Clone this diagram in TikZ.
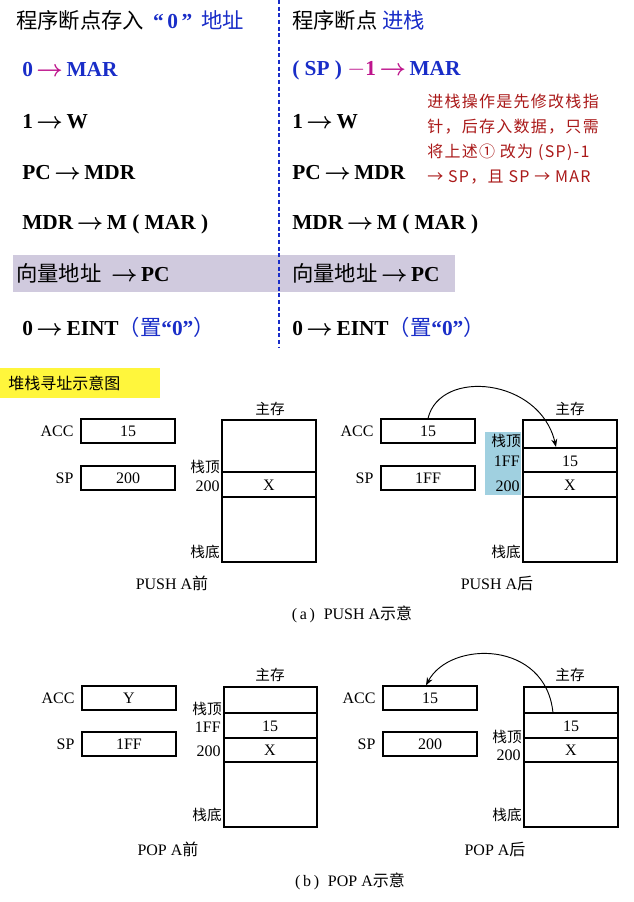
\documentclass[tikz,border=0pt]{standalone}
\usepackage{fontspec}
\setmainfont{Liberation Serif}
\newfontfamily\cjk{Noto Sans CJK SC}
\newfontfamily\cjknote[LetterSpace=8]{Noto Sans CJK SC}
\usepackage{amsmath}
\usetikzlibrary{positioning}
\usetikzlibrary{arrows.meta}
\definecolor{stepblue}{RGB}{25,45,200}
\definecolor{stepmag}{RGB}{190,20,140}
\definecolor{notered}{RGB}{170,25,25}
\definecolor{bandgray}{RGB}{208,202,222}
\definecolor{topcyan}{RGB}{160,208,224}
\definecolor{tagyellow}{RGB}{255,246,60}
\newcommand{\toarrow}{\,$\boldsymbol{\rightarrow}$\,}

\begin{document}
\begin{tikzpicture}[x=0.75pt, y=-0.75pt,
    step line/.style={anchor=west, font=\bfseries\fontsize{16}{19}\selectfont, inner sep=0pt},
    note line/.style={anchor=west, text=notered, font=\cjknote\fontsize{12}{14}\selectfont, inner sep=0pt},
    reg/.style={draw, line width=0.9pt, minimum width=70.5pt, minimum height=18pt, inner sep=0pt, font=\fontsize{12}{14}\selectfont},
    lbl/.style={font=\fontsize{12}{14}\selectfont, inner sep=0pt},
    clbl/.style={font=\cjk\fontsize{11}{13}\selectfont, inner sep=0pt},
    cell/.style={font=\fontsize{12}{14}\selectfont, inner sep=0pt}]
  \useasboundingbox (0,0) rectangle (634,902);
  \fill[white] (0,0) rectangle (634,902);

  % upper part
  \fill[bandgray] (13,255) rectangle (455,292);
  \draw[stepblue, densely dashed, line width=1pt] (279,0) -- (279,348);

  \node[step line] (titleL) at (16,20) {{\cjk\mdseries 程序断点存入}\, \textcolor{stepblue}{“\,0\,”\, {\cjk\mdseries 地址}}};
  \node[step line] (titleR) at (292,20) {\cjk\mdseries 程序断点 \textcolor{stepblue}{进栈}};

  \node[step line, text=stepblue] (l1) at (22,70) {0\textcolor{stepmag}{\toarrow}MAR};
  \node[step line] (l2) at (22,122) {1\toarrow W};
  \node[step line] (l3) at (22,173) {PC\toarrow MDR};
  \node[step line] (l4) at (22,224) {MDR\toarrow M ( MAR )};
  \node[step line] (l5) at (16,273) {{\cjk\mdseries 向量地址}\;\toarrow PC};
  \node[step line] (l6) at (22,327) {0\toarrow EINT\textcolor{stepblue}{{\cjk\mdseries （置}“0”{\cjk\mdseries ）}}};

  \node[step line, text=stepblue] (r1) at (292,70) {( SP ) \textcolor{stepmag}{$-$1\toarrow}MAR};
  \node[step line] (r2) at (292,122) {1\toarrow W};
  \node[step line] (r3) at (292,173) {PC\toarrow MDR};
  \node[step line] (r4) at (292,224) {MDR\toarrow M ( MAR )};
  \node[step line] (r5) at (292,273) {{\cjk\mdseries 向量地址}\toarrow PC};
  \node[step line] (r6) at (292,327) {0\toarrow EINT\textcolor{stepblue}{{\cjk\mdseries （置}“0”{\cjk\mdseries ）}}};

  \node[note line] (n1) at (427,101) {进栈操作是先修改栈指};
  \node[note line] (n2) at (427,127) {针，后存入数据，只需};
  \node[note line] (n3) at (427,152) {将上述① 改为 (SP)-1};
  \node[note line] (n4) at (427,177) {→ SP，且 SP → MAR};

  \fill[tagyellow] (0,368) rectangle (160,398);
  \node[clbl, anchor=west, font=\cjk\fontsize{12}{14}\selectfont] (tag) at (8,383) {堆栈寻址示意图};

  % (a) PUSH A
  \node[reg] (accAa) at (128,431) {15};
  \node[reg] (spAa) at (128,478) {200};
  \node[lbl, left=5pt of accAa] {ACC};
  \node[lbl, left=5pt of spAa] {SP};
  \draw[line width=0.9pt] (222,420) rectangle (316,562) (222,472) -- (316,472) (222,497) -- (316,497);
  \node[cell] at (269,485) {X};
  \node[clbl] at (270,409) {主存};
  \node[clbl, anchor=east] at (220,467) {栈顶};
  \node[lbl, anchor=east] at (220,486) {200};
  \node[clbl, anchor=east] at (220,552) {栈底};
  \node[lbl] at (172,583) {PUSH A{\cjk 前}};

  \fill[topcyan] (485,432) rectangle (521,495);
  \node[reg] (accAb) at (428,431) {15};
  \node[reg] (spAb) at (428,478) {1FF};
  \node[lbl, left=5pt of accAb] {ACC};
  \node[lbl, left=5pt of spAb] {SP};
  \draw[line width=0.9pt] (523,420) rectangle (617,562) (523,448) -- (617,448) (523,472) -- (617,472) (523,497) -- (617,497);
  \node[cell] at (570,461) {15};
  \node[cell] at (570,485) {X};
  \node[clbl] at (570,409) {主存};
  \node[clbl, anchor=east] at (521,441) {栈顶};
  \node[lbl, anchor=east] at (520,461) {1FF};
  \node[lbl, anchor=east] at (520,486) {200};
  \node[clbl, anchor=east] at (521,552) {栈底};
  \node[lbl] at (497,583) {PUSH A{\cjk 后}};
  \coordinate (pushEnd) at (556,447);
  \draw[-{Stealth[length=6pt]}, line width=0.7pt] (accAb.north) .. controls (440,368) and (540,378) .. (pushEnd);

  \node[lbl] (capA) at (352,614) {(\,a\,)\;\;PUSH A{\cjk 示意}};

  % (b) POP A
  \node[reg] (accBa) at (129,698) {Y};
  \node[reg] (spBa) at (129,744) {1FF};
  \node[lbl, left=5pt of accBa] {ACC};
  \node[lbl, left=5pt of spBa] {SP};
  \draw[line width=0.9pt] (224,687) rectangle (317,827) (224,713) -- (317,713) (224,738) -- (317,738) (224,762) -- (317,762);
  \node[cell] at (270,726) {15};
  \node[cell] at (270,750) {X};
  \node[clbl] at (270,675) {主存};
  \node[clbl, anchor=east] at (222,709) {栈顶};
  \node[lbl, anchor=east] at (221,727) {1FF};
  \node[lbl, anchor=east] at (221,751) {200};
  \node[clbl, anchor=east] at (222,815) {栈底};
  \node[lbl] at (168,849) {POP A{\cjk 前}};

  \node[reg] (accBb) at (430,698) {15};
  \node[reg] (spBb) at (430,744) {200};
  \node[lbl, left=5pt of accBb] {ACC};
  \node[lbl, left=5pt of spBb] {SP};
  \draw[line width=0.9pt] (524,687) rectangle (618,827) (524,713) -- (618,713) (524,738) -- (618,738) (524,762) -- (618,762);
  \node[cell] at (571,726) {15};
  \node[cell] at (571,750) {X};
  \node[clbl] at (570,675) {主存};
  \node[clbl, anchor=east] at (522,737) {栈顶};
  \node[lbl, anchor=east] at (521,755) {200};
  \node[clbl, anchor=east] at (522,815) {栈底};
  \node[lbl] at (495,849) {POP A{\cjk 后}};
  \coordinate (popStart) at (553,713);
  \draw[-{Stealth[length=6pt]}, line width=0.7pt] (popStart) .. controls (546,640) and (450,640) .. ([xshift=-3pt]accBb.north);

  \node[lbl] (capB) at (350,881) {(\,b\,)\;\;POP A{\cjk 示意}};
\end{tikzpicture}
\end{document}
